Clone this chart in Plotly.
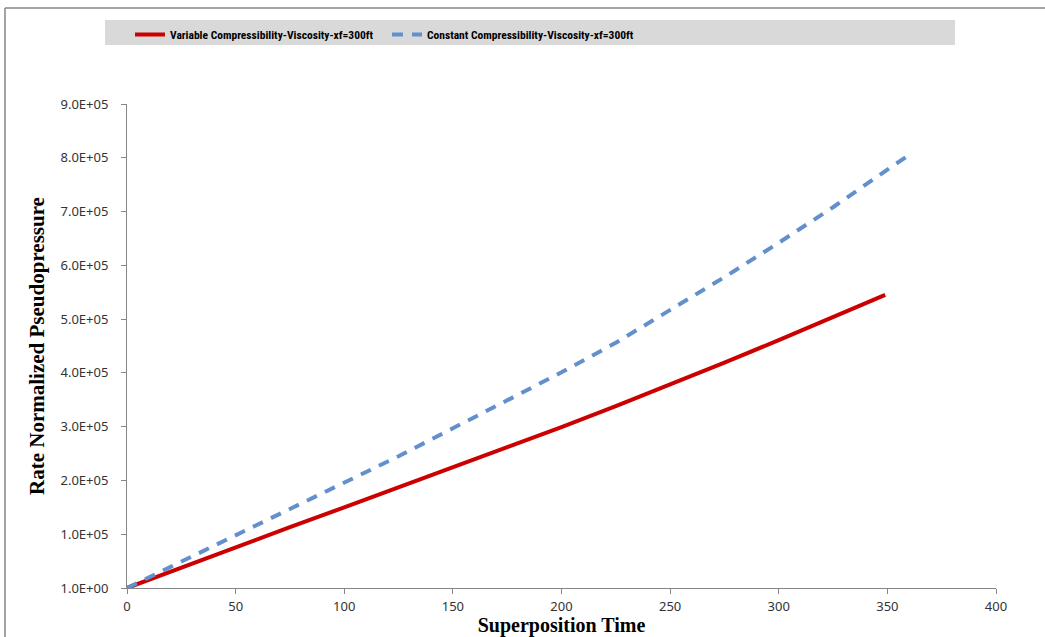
import plotly.graph_objects as go

# ---- data ----
var_x = [0, 25, 50, 75, 100, 125, 150, 175, 200, 225, 250, 275, 300, 325, 349]
var_y = [0, 38000, 76000, 113000, 150000, 187000, 224000, 261000, 299000, 338000,
         378000, 419000, 461000, 503000, 545000]

const_x = [0, 25, 50, 75, 100, 125, 150, 175, 200, 225, 250, 275, 300, 325, 350, 361]
const_y = [0, 49000, 97000, 145000, 195000, 245000, 297000, 348000, 401000, 456000,
           516000, 578000, 642000, 708000, 778000, 808000]

x_ticks = [0, 50, 100, 150, 200, 250, 300, 350, 400]
y_tickvals = [1, 100000, 200000, 300000, 400000, 500000, 600000, 700000, 800000, 900000]
y_ticktext = ["1.0E+00", "1.0E+05", "2.0E+05", "3.0E+05", "4.0E+05", "5.0E+05",
              "6.0E+05", "7.0E+05", "8.0E+05", "9.0E+05"]

name_var = "<b>Variable Compressibility-Viscosity-xf=300ft</b>"
name_const = "<b>Constant Compressibility-Viscosity-xf=300ft</b>"

W, H = 1045, 637
L, R, T, B = 127, 49, 104, 49
pw, ph = W - L - R, H - T - B

def px_x(p):
    return (p - L) / pw

def px_y(p):
    return (H - B - p) / ph

fig = go.Figure()
fig.add_trace(go.Scatter(x=var_x, y=var_y, mode="lines", name=name_var,
                         line=dict(color="#cc0000", width=4)))
fig.add_trace(go.Scatter(x=const_x, y=const_y, mode="lines", name=name_const,
                         line=dict(color="#6190cd", width=4, dash="11px,9px")))

axis_font = dict(family="Noto Sans, Open Sans, sans-serif", size=13, color="#333333")
serif = "Liberation Serif, Times New Roman, serif"

fig.update_layout(
    width=W, height=H,
    margin=dict(l=L, r=R, t=T, b=B, autoexpand=False),
    paper_bgcolor="white", plot_bgcolor="white",
    showlegend=True,
    legend=dict(orientation="h", x=px_x(130), y=px_y(20), xanchor="left", yanchor="top",
                bgcolor="rgba(0,0,0,0)", entrywidth=212, entrywidthmode="pixels",
                font=dict(family="Liberation Sans Narrow, Roboto Condensed, Noto Sans, sans-serif",
                          size=11.5, color="#000000"),
                itemwidth=30, tracegroupgap=0),
    xaxis=dict(range=[0, 400], tickvals=x_ticks, showgrid=False, zeroline=False,
               showline=True, linecolor="#868686", linewidth=1,
               ticks="outside", ticklen=5, tickcolor="#868686",
               tickfont=axis_font, ticklabelstandoff=1,
               title=dict(text="<b>Superposition Time</b>",
                          font=dict(family=serif, size=20, color="#000000"), standoff=8)),
    yaxis=dict(range=[0, 900000], tickvals=y_tickvals, ticktext=y_ticktext,
               showgrid=False, zeroline=False,
               showline=True, linecolor="#868686", linewidth=1,
               ticks="outside", ticklen=5, tickcolor="#868686",
               tickfont=axis_font, ticklabelstandoff=10,
               title=dict(text="<b>Rate Normalized Pseudopressure</b>",
                          font=dict(family=serif, size=21, color="#000000"), standoff=10)),
    shapes=[
        dict(type="rect", xref="paper", yref="paper",
             x0=px_x(105), x1=px_x(955), y0=px_y(45), y1=px_y(20),
             fillcolor="#d9d9d9", line=dict(width=0), layer="below"),
        dict(type="line", xref="paper", yref="paper",
             x0=px_x(5), x1=px_x(1045), y0=px_y(8), y1=px_y(8),
             line=dict(color="#868686", width=1.5)),
        dict(type="line", xref="paper", yref="paper",
             x0=px_x(5), x1=px_x(5), y0=px_y(8), y1=px_y(637),
             line=dict(color="#868686", width=1.5)),
    ],
)

fig.write_html("out.html")
